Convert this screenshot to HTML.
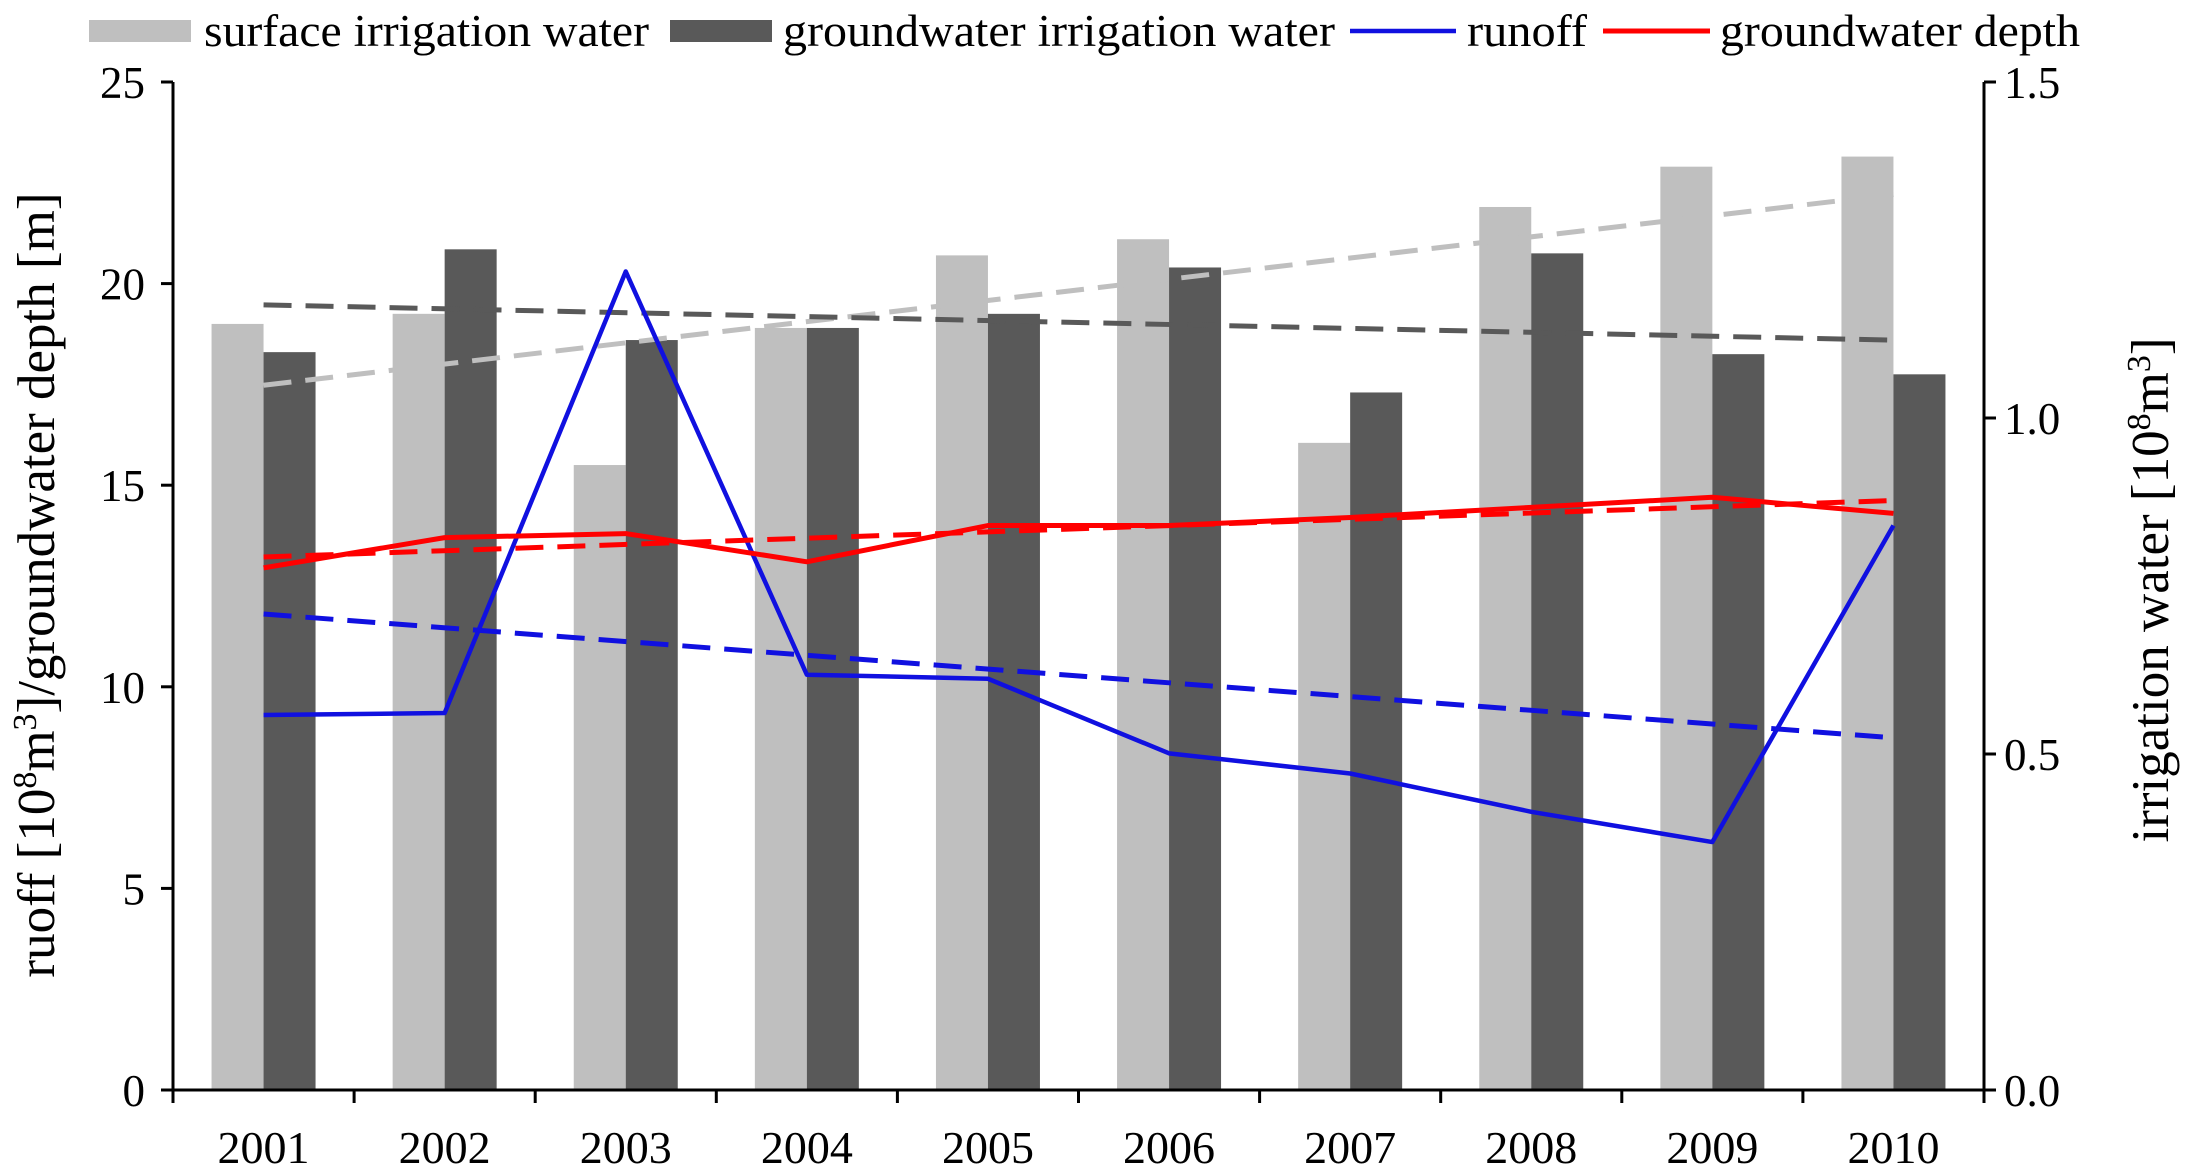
<!DOCTYPE html>
<html><head><meta charset="utf-8"><style>
html,body{margin:0;padding:0;background:#fff}
svg{display:block;font-family:"Liberation Serif",serif}
</style></head><body>
<svg id="chart" width="2189" height="1175" viewBox="0 0 2189 1175">
<g id="bars"></g>
<g id="lines"></g>
<g id="axes"></g>
<g id="legend">
 <rect x="89" y="20" width="102" height="22" fill="#bfbfbf"/>
 <text x="204" y="46" font-size="45" textLength="445" lengthAdjust="spacingAndGlyphs">surface irrigation water</text>
 <rect x="670" y="20" width="102" height="22" fill="#595959"/>
 <text x="783" y="46" font-size="45" textLength="552" lengthAdjust="spacingAndGlyphs">groundwater irrigation water</text>
 <line x1="1350" y1="31" x2="1456" y2="31" stroke="#1010e0" stroke-width="4.5"/>
 <text x="1467" y="46" font-size="45" textLength="120" lengthAdjust="spacingAndGlyphs">runoff</text>
 <line x1="1603" y1="31" x2="1710" y2="31" stroke="#ff0000" stroke-width="5"/>
 <text x="1720" y="46" font-size="45" textLength="360" lengthAdjust="spacingAndGlyphs">groundwater depth</text>
</g>
<text transform="translate(54,585) rotate(-90)" text-anchor="middle" font-size="53">ruoff [10<tspan baseline-shift="super" font-size="34">8</tspan>m<tspan baseline-shift="super" font-size="34">3</tspan>]/groundwater depth [m]</text>
<text transform="translate(2168,590) rotate(-90)" text-anchor="middle" font-size="53">irrigation water [10<tspan baseline-shift="super" font-size="34">8</tspan>m<tspan baseline-shift="super" font-size="34">3</tspan>]</text>
</svg>
<script>
const years = ["2001","2002","2003","2004","2005","2006","2007","2008","2009","2010"];
const surfaceWater = [1.14,1.155,0.93,1.134,1.242,1.266,0.963,1.314,1.374,1.389];
const groundIrrigation = [1.098,1.251,1.116,1.134,1.155,1.224,1.038,1.245,1.095,1.065];
const runoff = [9.3,9.35,20.3,10.3,10.2,8.35,7.85,6.9,6.15,14.0];
const gwDepth = [12.95,13.7,13.8,13.1,14.0,14.0,14.2,14.45,14.7,14.3];
const leftTicks = ["0","5","10","15","20","25"];
const rightTicks = ["0.0","0.5","1.0","1.5"];

const NS="http://www.w3.org/2000/svg";
const X0=173,X1=1984,Y0=1090,Y1=82;
const catW=(X1-X0)/years.length;
const xc=i=>X0+catW*(i+0.5);
const yL=v=>Y0-(v/25)*(Y0-Y1);
const yR=v=>Y0-(v/1.5)*(Y0-Y1);
function mk(tag,attrs,parent){const e=document.createElementNS(NS,tag);for(const k in attrs)e.setAttribute(k,attrs[k]);parent.appendChild(e);return e;}
const bars=document.getElementById('bars'),lines=document.getElementById('lines'),axes=document.getElementById('axes');
const bw=52;
years.forEach((y,i)=>{
 let r=mk('rect',{x:xc(i)-bw,y:yR(surfaceWater[i]),width:bw,height:Y0-yR(surfaceWater[i]),fill:'#bfbfbf'},bars);
 
 
 let g=mk('rect',{x:xc(i),y:yR(groundIrrigation[i]),width:bw,height:Y0-yR(groundIrrigation[i]),fill:'#595959'},bars);
 
 
});
function trend(arr){const n=arr.length;let mx=(n-1)/2,my=arr.reduce((a,b)=>a+b)/n,sxy=0,sxx=0;arr.forEach((v,i)=>{sxy+=(i-mx)*(v-my);sxx+=(i-mx)*(i-mx)});const b=sxy/sxx;return [my-b*mx,my+b*(n-1-mx)];}
function tline(arr,yf,color,name){const t=trend(arr);const l=mk('line',{x1:xc(0),y1:yf(t[0]),x2:xc(arr.length-1),y2:yf(t[1]),stroke:color,'stroke-width':5,'stroke-dasharray':'28,14'},lines);
 
 }
tline(surfaceWater,yR,'#bfbfbf','trend-surface');
tline(groundIrrigation,yR,'#595959','trend-groundwater-irrigation');
function pline(arr,color,w,name){const p=mk('polyline',{points:arr.map((v,i)=>xc(i)+','+yL(v)).join(' '),fill:'none',stroke:color,'stroke-width':w,'stroke-linejoin':'round'},lines);
 
 }
pline(runoff,'#1010e0',4.5,'runoff-line');
tline(runoff,yL,'#1010e0','trend-runoff');
pline(gwDepth,'#ff0000',5,'groundwater-depth-line');
tline(gwDepth,yL,'#ff0000','trend-groundwater-depth');
const A={stroke:'#000','stroke-width':3};
let a=mk('line',Object.assign({x1:X0,y1:Y1,x2:X0,y2:Y0+1},A),axes);
a=mk('line',Object.assign({x1:X1,y1:Y1,x2:X1,y2:Y0+1},A),axes);
a=mk('line',Object.assign({x1:X0,y1:Y0,x2:X1,y2:Y0},A),axes);
leftTicks.forEach(t=>{const y=yL(+t);mk('line',Object.assign({x1:X0-12,y1:y,x2:X0,y2:y},A),axes);
 const tx=mk('text',{x:145,y:y+16,'text-anchor':'end','font-size':45},axes);tx.textContent=t;
 
 });
rightTicks.forEach(t=>{const y=yR(+t);mk('line',Object.assign({x1:X1,y1:y,x2:X1+12,y2:y},A),axes);
 const tx=mk('text',{x:2004,y:y+16,'font-size':45},axes);tx.textContent=t;
 
 });
for(let i=0;i<=years.length;i++){mk('line',Object.assign({x1:X0+catW*i,y1:Y0,x2:X0+catW*i,y2:Y0+13},A),axes);}
years.forEach((y,i)=>{const tx=mk('text',{x:xc(i),y:1163,'text-anchor':'middle','font-size':46},axes);tx.textContent=y;
 
 });
</script>
</body></html>
